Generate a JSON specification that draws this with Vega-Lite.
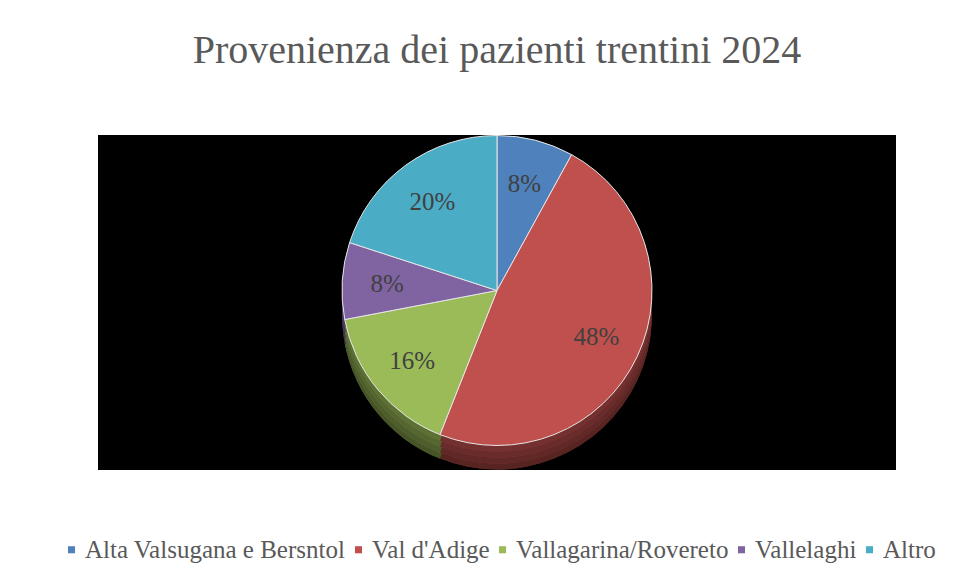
{
  "$schema": "https://vega.github.io/schema/vega-lite/v6.json",
  "width": 798,
  "height": 335,
  "autosize": "none",
  "padding": {"left": 98, "top": 135, "right": 77, "bottom": 109},
  "background": "white",
  "title": {
    "text": "Provenienza dei pazienti trentini 2024",
    "font": "Liberation Serif",
    "fontSize": 40,
    "fontWeight": "normal",
    "color": "#595959",
    "anchor": "middle",
    "offset": 63
  },
  "data": {
    "values": [
      {"zona": "Alta Valsugana e Bersntol", "pct": 8, "i": 1, "label": "8%"},
      {"zona": "Val d'Adige", "pct": 48, "i": 2, "label": "48%"},
      {"zona": "Vallagarina/Rovereto", "pct": 16, "i": 3, "label": "16%"},
      {"zona": "Vallelaghi", "pct": 8, "i": 4, "label": "8%"},
      {"zona": "Altro", "pct": 20, "i": 5, "label": "20%"}
    ]
  },
  "encoding": {
    "theta": {"field": "pct", "type": "quantitative", "stack": true},
    "order": {"field": "i", "type": "quantitative"},
    "color": {
      "field": "zona",
      "type": "nominal",
      "scale": {
        "domain": ["Alta Valsugana e Bersntol", "Val d'Adige", "Vallagarina/Rovereto", "Vallelaghi", "Altro"],
        "range": ["#4F81BD", "#C0504D", "#9BBB59", "#8064A2", "#4BACC6"]
      },
      "legend": {
        "orient": "none",
        "legendX": -39,
        "legendY": 402,
        "direction": "horizontal",
        "title": null,
        "symbolType": "square",
        "symbolSize": 50,
        "symbolStrokeWidth": 0,
        "labelFont": "Liberation Serif",
        "labelFontSize": 25,
        "labelColor": "#595959",
        "labelLimit": 400,
        "columnPadding": 0,
        "labelOffset": 1
      }
    }
  },
  "layer": [
    {
      "data": {"values": [{"bg": 1}]},
      "mark": {"type": "rect", "fill": "black"},
      "encoding": {"theta": null, "order": null, "color": null}
    },
    {"mark": {"type": "arc", "radius": 155, "yOffset": 12}},
    {"mark": {"type": "arc", "radius": 155, "yOffset": 12, "opacity": 0.55}, "encoding": {"color": {"value": "black"}, "detail": {"field": "zona"}}},
    {"mark": {"type": "arc", "radius": 155, "yOffset": 6}},
    {"mark": {"type": "arc", "radius": 155, "yOffset": 6, "opacity": 0.5}, "encoding": {"color": {"value": "black"}, "detail": {"field": "zona"}}},
    {"mark": {"type": "arc", "radius": 155, "yOffset": 0}},
    {"mark": {"type": "arc", "radius": 155, "yOffset": 0, "opacity": 0.45}, "encoding": {"color": {"value": "black"}, "detail": {"field": "zona"}}},
    {"mark": {"type": "arc", "radius": 155, "yOffset": -6}},
    {"mark": {"type": "arc", "radius": 155, "yOffset": -6, "opacity": 0.4}, "encoding": {"color": {"value": "black"}, "detail": {"field": "zona"}}},
    {"mark": {"type": "arc", "radius": 155, "yOffset": -12, "stroke": "#e6e6e6", "strokeWidth": 1}},
    {
      "mark": {"type": "text", "radius": 110, "yOffset": -12, "font": "Liberation Serif", "fontSize": 25},
      "encoding": {"text": {"field": "label"}, "color": {"value": "#404040"}, "detail": {"field": "zona"}}
    }
  ],
  "config": {
    "view": {"stroke": null}
  }
}
